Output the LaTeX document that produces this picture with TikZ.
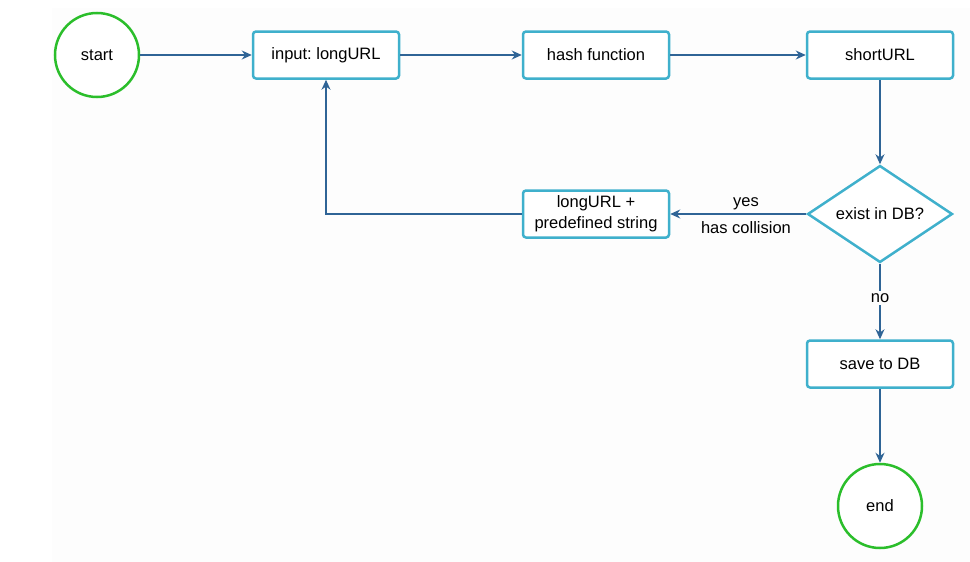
\documentclass[tikz,border=0pt]{standalone}
\usepackage{fontspec}
\setmainfont{Liberation Sans}
\frenchspacing
\usetikzlibrary{arrows.meta,shapes.geometric}
\definecolor{boxc}{HTML}{3FB0CC}
\definecolor{arrc}{HTML}{2F6496}
\definecolor{circc}{HTML}{2BBE2B}
\definecolor{bgc}{HTML}{FDFDFD}
\tikzset{
  procbox/.style={draw=boxc, line width=2.5pt, rounded corners=3pt, fill=white,
    minimum width=146pt, minimum height=47pt, align=center, inner sep=0pt,
    font=\fontsize{16.5}{21}\selectfont},
  termc/.style={circle, draw=circc, line width=2.5pt, fill=white, minimum size=84pt,
    inner sep=0pt, font=\fontsize{16.5}{20}\selectfont},
  decide/.style={diamond, draw=boxc, line width=2.5pt, fill=white, minimum width=145pt,
    minimum height=97pt, inner sep=0pt, aspect=1.5, font=\fontsize{16.5}{20}\selectfont},
  flow/.style={draw=arrc, line width=1.2pt, -{Stealth[length=10pt,width=9pt]}},
  lbl/.style={font=\fontsize{16.5}{20}\selectfont, inner sep=0pt},
}
\begin{document}
\begin{tikzpicture}[x=1pt,y=-1pt]
\useasboundingbox (0,0) rectangle (970,562);
\fill[bgc] (52,8) rectangle (970,562);
\node[termc] (start) at (97,55) {start};
\node[procbox] (input) at (326,55) {input: longURL};
\node[procbox] (hash) at (596,55) {hash function};
\node[procbox] (short) at (880,55) {shortURL};
\node[decide] (exist) at (880,214) {exist in DB?};
\node[procbox] (plus) at (596,214) {longURL +\\predefined string};
\node[procbox] (save) at (880,364) {save to DB};
\node[termc] (end) at (880,506) {end};
\draw[flow] (start) -- (input);
\draw[flow] (input) -- (hash);
\draw[flow] (hash) -- (short);
\draw[flow] (short) -- (exist);
\draw[flow] (exist) -- (plus);
\draw[flow] (plus.west) -| (input.south);
\draw[flow] (exist) -- (save);
\draw[flow] (save) -- (end);
\node[lbl] (yes) at (746,204) {yes};
\node[lbl] (coll) at (746,228) {has collision};
\node[lbl, fill=bgc, inner sep=2pt] (no) at (880,298) {no};
\end{tikzpicture}
\end{document}
